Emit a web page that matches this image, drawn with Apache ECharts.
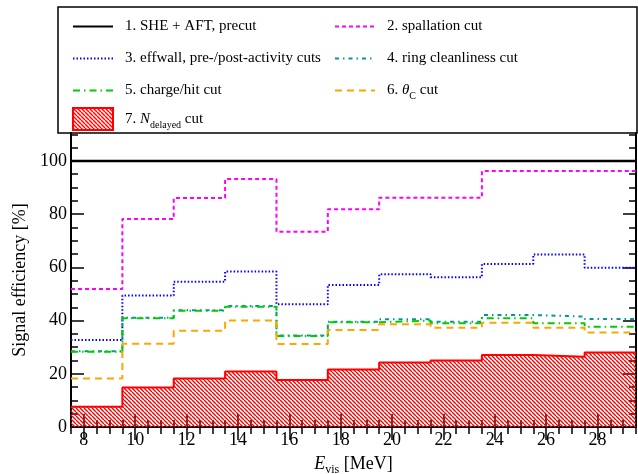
<!DOCTYPE html>
<html>
<head>
<meta charset="utf-8">
<script src="https://cdn.jsdelivr.net/npm/echarts@6/dist/echarts.min.js"></script>
<style>
  html, body { margin: 0; padding: 0; background: #fff; }
  #chart { width: 638px; height: 474px; }
</style>
</head>
<body>
<div id="chart"></div>
<script>
// bin edges (MeV), 11 bins of 2 MeV
var edges = [7.5, 9.5, 11.5, 13.5, 15.5, 17.5, 19.5, 21.5, 23.5, 25.5, 27.5, 29.5];

// signal efficiency [%] per bin
var precut     = [100, 100, 100, 100, 100, 100, 100, 100, 100, 100, 100];
var spallation = [51.9, 78.2, 86.1, 93.2, 73.4, 81.8, 86.2, 86.2, 96.2, 96.2, 96.2];
var effwall    = [32.7, 49.4, 54.6, 58.4, 46.1, 53.4, 57.4, 56.3, 61.3, 64.8, 59.9];
var ring       = [28.5, 41.1, 43.9, 45.5, 34.4, 39.6, 40.5, 39.6, 42.1, 41.5, 40.6];
var charge     = [28.3, 40.9, 43.7, 45.2, 34.2, 39.4, 40.0, 39.0, 40.9, 39.0, 37.7];
var thetaC     = [18.2, 31.3, 36.2, 40.0, 31.2, 36.5, 38.6, 37.3, 39.2, 37.3, 35.5];
var nDelayed   = [7.6, 14.8, 18.2, 20.9, 17.7, 21.6, 24.2, 25.0, 27.1, 26.4, 28.0];

// tick values
var xMajor = [8, 10, 12, 14, 16, 18, 20, 22, 24, 26, 28];
var xMinor = [];
for (var t = 7.5; t <= 29.5; t += 0.5) xMinor.push(t);
var yMajor = [0, 20, 40, 60, 80, 100];
var yMinor = [];
for (var u = 0; u <= 110; u += 5) yMinor.push(u);

var FONT = 'Liberation Serif';

// histogram -> step points
function steps(vals) {
    var pts = [];
    for (var i = 0; i < vals.length; i++) pts.push([edges[i], vals[i]]);
    pts.push([edges[edges.length - 1], vals[vals.length - 1]]);
    return pts;
}

// red hatch pattern
var hatch = document.createElement('canvas');
hatch.width = 4; hatch.height = 4;
var hc = hatch.getContext('2d');
hc.strokeStyle = '#ff0000';
hc.lineWidth = 1.4;
for (var k = -4; k <= 4; k += 4) {
    hc.beginPath();
    hc.moveTo(k, 0);
    hc.lineTo(k + 4, 4);
    hc.stroke();
}
var hatchFill = { image: hatch, repeat: 'repeat' };

function stepSeries(name, vals, color, type, width) {
    return {
        name: name,
        type: 'line',
        step: 'end',
        symbol: 'none',
        data: steps(vals),
        lineStyle: { color: color, width: width || 2, type: type },
        itemStyle: { color: color }
    };
}

var names = [
    '1. SHE + AFT, precut',
    '2. spallation cut',
    '3. effwall, pre-/post-activity cuts',
    '4. ring cleanliness cut',
    '5. charge/hit cut',
    '6. theta cut',
    '7. Ndelayed cut'
];

var rich = {
    n: { fontFamily: FONT, fontSize: 15, color: '#000', lineHeight: 22 },
    i: { fontFamily: FONT, fontSize: 15, color: '#000', fontStyle: 'italic', lineHeight: 22 },
    s: { fontFamily: FONT, fontSize: 10, color: '#000', verticalAlign: 'bottom' }
};

function legendText(name) {
    if (name === names[5]) return '{n|6. }{i|θ}{s|C}{n| cut}';
    if (name === names[6]) return '{n|7. }{i|N}{s|delayed}{n| cut}';
    return '{n|' + name + '}';
}

function legend(items, left, top, h, gap) {
    return {
        data: items,
        left: left,
        top: top,
        orient: 'vertical',
        itemWidth: 40,
        itemHeight: h,
        itemGap: gap,
        selectedMode: false,
        itemStyle: { opacity: 0 },
        formatter: legendText,
        textStyle: { fontFamily: FONT, fontSize: 15, color: '#000', padding: [0, 0, 0, 7], rich: rich }
    };
}

function xAx(pos, vals, len, labels, line) {
    return {
        type: 'value', min: 7.5, max: 29.5, position: pos,
        axisLine: { show: line, lineStyle: { color: '#000', width: 2 } },
        axisTick: { show: true, inside: true, length: len, customValues: vals, lineStyle: { color: '#000', width: 1.5 } },
        axisLabel: { show: labels, customValues: vals, margin: 4, fontFamily: FONT, fontSize: 18, color: '#000' },
        splitLine: { show: false }
    };
}
function yAx(pos, vals, len, labels, line) {
    return {
        type: 'value', min: 0, max: 110.5, position: pos,
        axisLine: { show: line, lineStyle: { color: '#000', width: 2 } },
        axisTick: { show: true, inside: true, length: len, customValues: vals, lineStyle: { color: '#000', width: 1.5 } },
        axisLabel: { show: labels, customValues: vals, margin: 4, fontFamily: FONT, fontSize: 18, color: '#000' },
        splitLine: { show: false }
    };
}

var xMain = xAx('bottom', xMajor, 13, true, true);
xMain.name = '{i|E}{s|vis}{n| [MeV]}';
xMain.nameLocation = 'middle';
xMain.nameGap = 25;
xMain.nameTextStyle = {
    rich: {
        i: { fontFamily: FONT, fontSize: 18, fontStyle: 'italic', color: '#000', lineHeight: 24 },
        s: { fontFamily: FONT, fontSize: 12, color: '#000', verticalAlign: 'bottom' },
        n: { fontFamily: FONT, fontSize: 18, color: '#000', lineHeight: 24 }
    }
};
var yMain = yAx('left', yMajor, 13, true, true);
yMain.name = 'Signal efficiency [%]';
yMain.nameLocation = 'middle';
yMain.nameGap = 40;
yMain.nameTextStyle = { fontFamily: FONT, fontSize: 18, color: '#000' };

var myChart = echarts.init(document.getElementById('chart'));

var option = {
    animation: false,
    backgroundColor: '#fff',
    grid: { left: 71, right: 2, top: 133, bottom: 47, outerBoundsMode: 'none' },
    graphic: [{
        type: 'rect', z: 0,
        shape: { x: 58, y: 7, width: 579, height: 126 },
        style: { fill: '#fff', stroke: '#000', lineWidth: 1.5 }
    }],
    legend: [
        legend([names[0], names[2], names[4]], 67, 14, 14, 17),
        legend([names[1], names[3], names[5]], 329, 14, 14, 17),
        legend([{ name: names[6], icon: 'rect', itemStyle: { color: hatchFill, borderColor: '#ff0000', borderWidth: 2, opacity: 1 } }], 67, 102, 22, 10)
    ],
    xAxis: [
        xMain,
        xAx('bottom', xMinor, 7, false, false),
        xAx('top', xMajor, 13, false, true),
        xAx('top', xMinor, 7, false, false)
    ],
    yAxis: [
        yMain,
        yAx('left', yMinor, 7, false, false),
        yAx('right', yMajor, 13, false, true),
        yAx('right', yMinor, 7, false, false)
    ],
    series: [
        (function () {
            var s = stepSeries(names[6], nDelayed, '#ff0000', 'solid', 2);
            s.areaStyle = { color: hatchFill, opacity: 1 };
            return s;
        })(),
        stepSeries(names[0], precut, '#000000', 'solid', 2.5),
        stepSeries(names[1], spallation, '#ff00ff', [4, 3], 2),
        stepSeries(names[2], effwall, '#0000ff', [1.5, 2], 2),
        stepSeries(names[3], ring, '#009999', [4, 4, 1.5, 4], 2),
        stepSeries(names[4], charge, '#00cc00', [7, 4, 1.5, 4], 2),
        stepSeries(names[5], thetaC, '#ffa500', [7, 5], 2)
    ]
};

myChart.setOption(option);
</script>
</body>
</html>
